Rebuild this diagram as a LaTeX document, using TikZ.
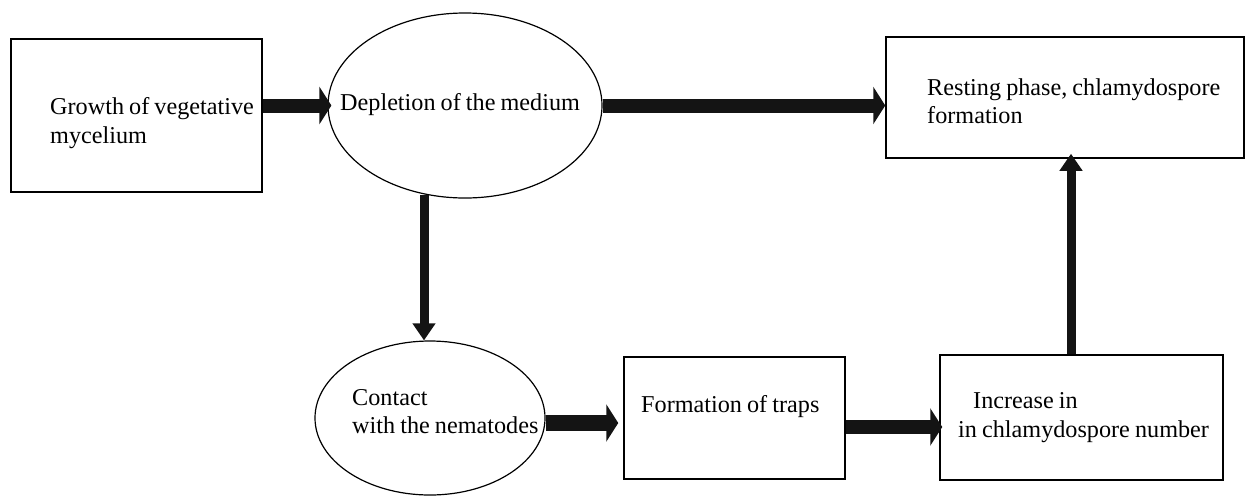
\documentclass[tikz,border=0pt]{standalone}
\usepackage{fontspec}
\setmainfont{Liberation Serif}
\usetikzlibrary{arrows.meta,calc,shapes.geometric}
\newcommand{\tightspace}{\spaceskip=0.21em plus 0.1em minus 0.05em\relax}
\begin{document}
\begin{tikzpicture}[x=1pt,y=-1pt,
  boxnode/.style={draw, line width=1.5pt, rectangle, inner sep=0pt},
  ellnode/.style={draw, line width=1.2pt, ellipse, inner sep=0pt},
  lbl/.style={anchor=base west, inner sep=0pt, font=\fontsize{24.2}{29}\selectfont\tightspace},
  harrow/.style={line width=14pt, -{Triangle[width=37pt,length=12pt]}, draw=black!92, fill=black!92},
  varrow/.style={line width=9pt, -{Triangle[width=22pt,length=17pt]}, draw=black!92, fill=black!92},
]
\useasboundingbox (0,0) rectangle (1246,496);
% shapes
\node[boxnode, minimum width=251pt, minimum height=153pt] (b1) at (136.5,115.5) {};
\node[ellnode, minimum width=274pt, minimum height=185pt] (e1) at (465,105.5) {};
\node[boxnode, minimum width=358pt, minimum height=121pt] (b2) at (1065,97.5) {};
\node[ellnode, minimum width=230pt, minimum height=154pt] (e2) at (430,418) {};
\node[boxnode, minimum width=221pt, minimum height=122pt] (b3) at (734.5,418) {};
\node[boxnode, minimum width=283pt, minimum height=125pt] (b4) at (1081.5,417.5) {};
% texts
\node[lbl] (t1a) at (50,114) {Growth of vegetative};
\node[lbl] (t1b) at (50,143) {mycelium};
\node[lbl] (t2) at (340,110) {Depletion of the medium};
\node[lbl] (t3a) at (927,95) {Resting phase, chlamydospore};
\node[lbl] (t3b) at (927,123) {formation};
\node[lbl] (t4a) at (352,405) {Contact};
\node[lbl] (t4b) at (352,433) {with the nematodes};
\node[lbl] (t5) at (641,412) {Formation of traps};
\node[lbl] (t6a) at (973,408) {Increase in};
\node[lbl] (t6b) at (958,437) {in chlamydospore number};
% connectors
\coordinate (v1) at (424,0);
\coordinate (v2) at (1071,0);
\coordinate (h4) at (0,423);
\coordinate (h5) at (0,427);
\draw[harrow, shorten >=-4pt] (b1.east |- e1.west) -- (e1.west);
\draw[harrow] (e1.east) -- (b2.west |- e1.east);
\draw[varrow, shorten <=-4pt] (e1.south -| v1) -- (e2.north -| v1);
\draw[harrow, line width=16pt, shorten >=5pt] (e2.east |- h4) -- (b3.west |- h4);
\draw[harrow, shorten >=-3pt] (b3.east |- h5) -- (b4.west |- h5);
\draw[varrow, shorten >=-5pt] (b4.north -| v2) -- (b2.south -| v2);
\end{tikzpicture}
\end{document}
